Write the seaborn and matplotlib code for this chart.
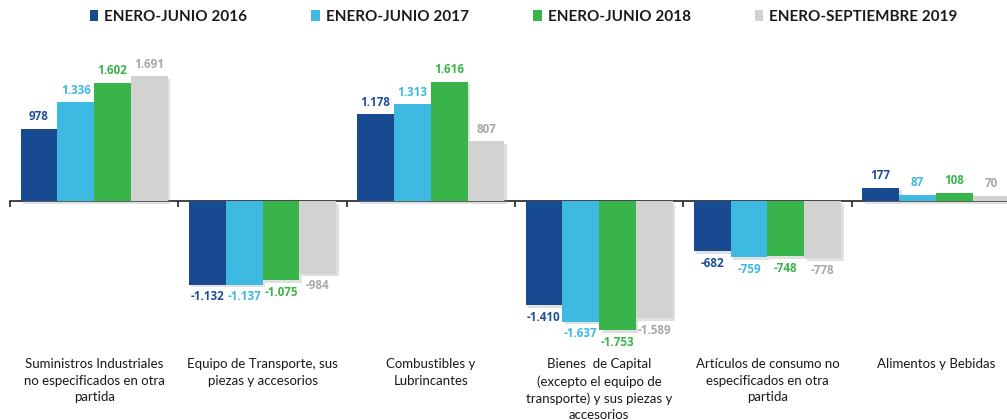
import pandas as pd
import numpy as np
import matplotlib
matplotlib.use('Agg')
import matplotlib.pyplot as plt
import matplotlib.patheffects as pe
import seaborn as sns

categories = [
    'Suministros Industriales\nno especificados en otra\npartida',
    'Equipo de Transporte, sus\npiezas y accesorios',
    'Combustibles y\nLubrincantes',
    'Bienes  de Capital\n(excepto el equipo de\ntransporte) y sus piezas y\naccesorios',
    'Artículos de consumo no\nespecificados en otra\npartida',
    'Alimentos y Bebidas',
]
periods = ['ENERO-JUNIO 2016', 'ENERO-JUNIO 2017', 'ENERO-JUNIO 2018', 'ENERO-SEPTIEMBRE 2019']
vals_2016 = [978, -1132, 1178, -1410, -682, 177]
vals_2017 = [1336, -1137, 1313, -1637, -759, 87]
vals_2018 = [1602, -1075, 1616, -1753, -748, 108]
vals_2019 = [1691, -984, 807, -1589, -778, 70]

bar_colors = ['#174A90', '#3DB9E2', '#39B44A', '#D2D2D2']
label_colors = ['#1F4E9A', '#3DB9E2', '#39B44A', '#A8A8A8']

df = pd.DataFrame({
    'categoria': categories * 4,
    'periodo': np.repeat(periods, len(categories)),
    'valor': vals_2016 + vals_2017 + vals_2018 + vals_2019,
})

fig = plt.figure(figsize=(10.07, 4.2), dpi=100)
ax = fig.add_axes([10 / 1007, 70 / 420, 1010 / 1007, 310 / 420])

sns.barplot(data=df, x='categoria', y='valor', hue='periodo', hue_order=periods,
            order=categories, palette=bar_colors, width=0.875, errorbar=None,
            saturation=1, ax=ax, legend=True)

# soft drop shadow like the original
shadow = [pe.SimplePatchShadow(offset=(1.8, -1.8), shadow_rgbFace='#999999', alpha=0.3), pe.Normal()]
for cont, lc in zip(ax.containers, label_colors):
    for p in cont:
        p.set_path_effects(shadow)
        p.set_linewidth(0)
    labels = [f"{int(v):,}".replace(',', '.') for v in cont.datavalues]
    ax.bar_label(cont, labels=labels, padding=4, color=lc, fontweight='bold',
                 fontsize=8.4, family='Open Sans')

ax.set_ylim(-2019, 2182)
ax.set_xlim(-0.5, len(categories) - 0.5)
ax.set_xlabel('')
ax.set_ylabel('')
ax.set_yticks([])
for s in ['top', 'right', 'left', 'bottom']:
    ax.spines[s].set_visible(False)
ax.tick_params(axis='x', length=0, pad=6)
for lab in ax.get_xticklabels():
    lab.set_fontfamily('Lato')
    lab.set_fontsize(9.5)
    lab.set_color('#1a1a1a')
    lab.set_linespacing(1.45)
    lab.set_verticalalignment('top')

# zero line with boundary ticks
ylo, yhi = ax.get_ylim()
zero_frac = (0 - ylo) / (yhi - ylo)
sec = ax.secondary_xaxis(zero_frac)
sec.set_xticks(np.arange(len(categories) + 1) - 0.5)
sec.set_xticklabels([])
sec.tick_params(axis='x', direction='out', length=4, width=1.2, color='#222222')
sec.spines['bottom'].set_color('#222222')
sec.spines['bottom'].set_linewidth(1.2)

handles, lbls = ax.get_legend_handles_labels()
ax.legend_.remove()
leg = fig.legend(handles, lbls, loc='center', bbox_to_anchor=(0.52, 0.96), ncol=4,
                 frameon=False, handlelength=0.55, handleheight=0.75, handletextpad=0.4,
                 columnspacing=4.2, prop={'family': 'Lato', 'weight': 'bold', 'size': 11})
for t in leg.get_texts():
    t.set_color('#1a1a1a')

fig.savefig('out.png', dpi=100)
